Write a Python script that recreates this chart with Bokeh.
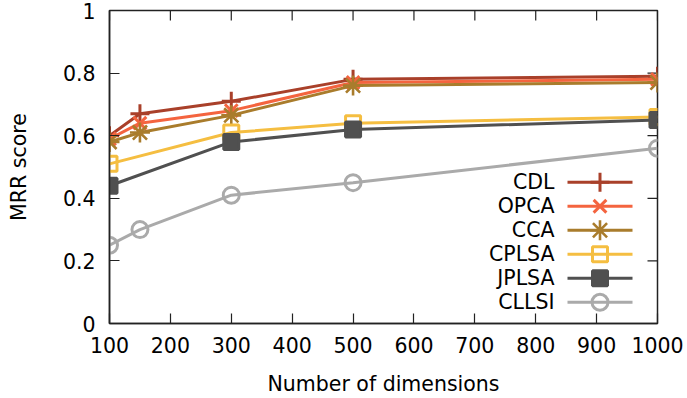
import math
from bokeh.plotting import figure
from bokeh.models import Range1d, FixedTicker
from bokeh.core.properties import value
from bokeh.embed import file_html
from bokeh.resources import INLINE

# ---- data ----
series_names = ["CDL", "OPCA", "CCA", "CPLSA", "JPLSA", "CLLSI"]
dims_cdl = [100, 150, 300, 500, 1000]
cdl = [0.60, 0.67, 0.71, 0.78, 0.79]
dims_opca = [100, 150, 300, 500, 1000]
opca = [0.59, 0.64, 0.68, 0.77, 0.78]
dims_cca = [100, 150, 300, 500, 1000]
cca = [0.58, 0.61, 0.665, 0.76, 0.77]
dims_cplsa = [100, 300, 500, 1000]
cplsa = [0.51, 0.61, 0.64, 0.66]
dims_jplsa = [100, 300, 500, 1000]
jplsa = [0.44, 0.58, 0.62, 0.65]
dims_cllsi = [100, 150, 300, 500, 1000]
cllsi = [0.25, 0.30, 0.41, 0.45, 0.56]

x_ticks = [100, 200, 300, 400, 500, 600, 700, 800, 900, 1000]
y_ticks = [0, 0.2, 0.4, 0.6, 0.8, 1]
y_tick_labels = ["0", "0.2", "0.4", "0.6", "0.8", "1"]
x_title = "Number of dimensions"
y_title = "MRR score"

# ---- style / layout ----
FONT = "DejaVu Sans"
FS = "20.5px"
AXC = "#222222"
W, H = 687, 398
BL, BR, BT, BB = 109, 30, 10, 74
FW, FH = W - BL - BR, H - BT - BB

styles = [
    dict(color="#A9402A", marker="cross", size=19, lw=3),
    dict(color="#F4643F", marker="x", size=18, lw=3),
    dict(color="#A97C2C", marker="asterisk", size=20, lw=2.6),
    dict(color="#F5BE41", marker="square", size=15, lw=3),
    dict(color="#505050", marker="square", size=15, lw=3, fill=True),
    dict(color="#AAAAAA", marker="circle", size=16, lw=3),
]
xs_all = [dims_cdl, dims_opca, dims_cca, dims_cplsa, dims_jplsa, dims_cllsi]
ys_all = [cdl, opca, cca, cplsa, jplsa, cllsi]

x_range = Range1d(100, 1000)
y_range = Range1d(0, 1)
p = figure(width=W, height=H, output_backend="svg", toolbar_location=None,
           x_range=x_range, y_range=y_range,
           min_border_left=BL, min_border_right=BR, min_border_top=BT,
           min_border_bottom=BB)
# pixel-like ranges for the legend (frame-relative)
p.extra_x_ranges = {"px": Range1d(0, FW)}
p.extra_y_ranges = {"px": Range1d(0, FH)}

p.xgrid.visible = False
p.ygrid.visible = False
p.outline_line_color = AXC
p.outline_line_width = 1.5
p.background_fill_color = "white"
p.border_fill_color = "white"

for ax in (p.xaxis[0], p.yaxis[0]):
    ax.axis_line_color = AXC
    ax.axis_line_width = 1.5
    ax.major_tick_line_color = AXC
    ax.major_tick_line_width = 1.2
    ax.major_tick_in = 10
    ax.major_tick_out = 0
    ax.minor_tick_line_color = None
    ax.major_label_text_font = FONT
    ax.major_label_text_font_size = FS
    ax.major_label_text_color = "black"
    ax.axis_label_text_font = FONT
    ax.axis_label_text_font_size = FS
    ax.axis_label_text_font_style = "normal"
    ax.axis_label_text_color = "black"

xaxis = p.xaxis[0]
yaxis = p.yaxis[0]
xaxis.ticker = FixedTicker(ticks=x_ticks)
yaxis.ticker = FixedTicker(ticks=y_ticks)
yaxis.major_label_overrides = {t: l for t, l in zip(y_ticks, y_tick_labels)}
xaxis.axis_label = x_title
xaxis.major_label_standoff = 13
xaxis.axis_label_standoff = 16
yaxis.axis_label = y_title
yaxis.major_label_standoff = 14
yaxis.axis_label_standoff = 29

# mirror ticks on top and right edges
p.ray(x=x_ticks, y=[y_range.end] * len(x_ticks), length=10, length_units="screen",
      angle=-math.pi / 2, line_color=AXC, line_width=1.2)
p.ray(x=[x_range.end] * len(y_ticks), y=y_ticks, length=10, length_units="screen",
      angle=math.pi, line_color=AXC, line_width=1.2)

# series
for name, xs, ys, st in zip(series_names, xs_all, ys_all, styles):
    p.line(xs, ys, line_color=st["color"], line_width=3)
    p.scatter(xs, ys, marker=st["marker"], size=st["size"],
              line_color=st["color"], line_width=st["lw"],
              fill_color=st["color"] if st.get("fill") else None,
              fill_alpha=1.0 if st.get("fill") else 0.0)

# legend (gnuplot style: text left, sample right), frame-relative pixels
LEG_TEXT_X, LEG_LINE_X0, LEG_LINE_X1 = 445, 458, 523
LEG_ROW0, LEG_STEP = 141.7, 24.08
for i, (name, st) in enumerate(zip(series_names, styles)):
    yy = LEG_ROW0 - i * LEG_STEP
    p.segment(x0=[LEG_LINE_X0], y0=[yy], x1=[LEG_LINE_X1], y1=[yy],
              line_color=st["color"], line_width=3,
              x_range_name="px", y_range_name="px")
    p.scatter(x=[(LEG_LINE_X0 + LEG_LINE_X1) / 2], y=[yy], marker=st["marker"],
              size=st["size"], line_color=st["color"], line_width=st["lw"],
              fill_color=st["color"] if st.get("fill") else None,
              fill_alpha=1.0 if st.get("fill") else 0.0,
              x_range_name="px", y_range_name="px")
    p.text(x=[LEG_TEXT_X], y=[yy], text=[name], text_align="right",
           text_baseline="middle", text_font=value(FONT), text_font_size=FS,
           text_color="black", x_range_name="px", y_range_name="px")

open("out.html", "w").write(file_html(p, INLINE))
